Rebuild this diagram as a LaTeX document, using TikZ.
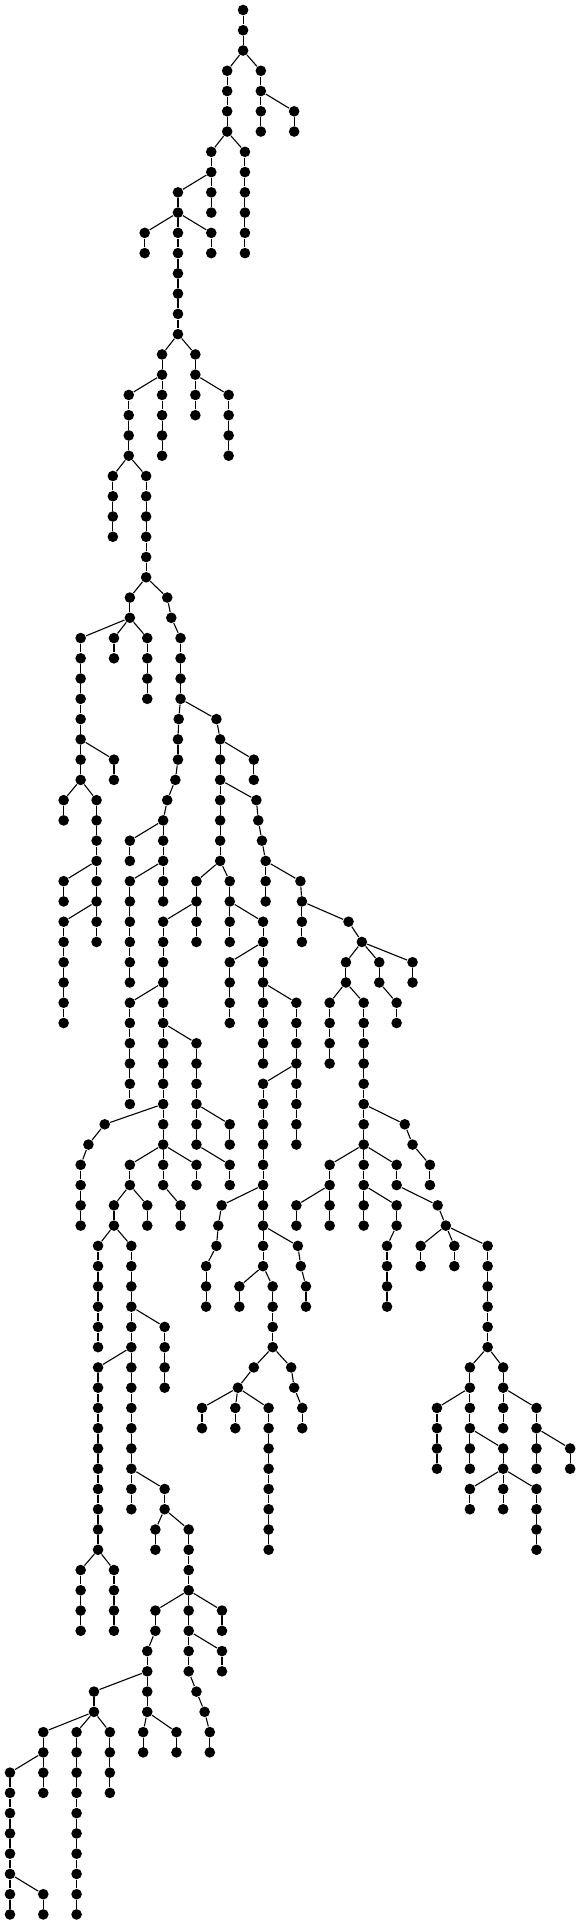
\documentclass[tikz,border=0pt]{standalone}
\usepackage{tikz}

\tikzset{vert/.style={circle, fill=black, inner sep=0pt, minimum size=10.6pt}}

\begin{document}
\begin{tikzpicture}[x=0.37pt, y=-20.26pt, line width=1.1pt]
    \useasboundingbox (0pt,10pt) rectangle (580pt,-1915pt);   % page frame

    \node [vert] (n0-657) at (657,0) {};                      % root

% level/column/parent column
\foreach \k/\x/\p in {1/657/657,2/657/657,%
    3/614/657,3/705/657,4/614/614,4/705/705,%
    5/614/614,5/705/705,5/795/705,6/614/614,6/705/705,6/795/795,%
    7/571/614,7/662/614,8/571/571,8/662/662,%
    9/481/571,9/571/571,9/662/662,10/481/481,10/571/571,10/662/662,%
    11/391/481,11/481/481,11/571/481,11/662/662,%
    12/391/391,12/481/481,12/571/571,12/662/662,%
    13/481/481,14/481/481,15/481/481,16/481/481,%
    17/438/481,17/528/481,18/438/438,18/528/528,%
    19/348/438,19/438/438,19/528/528,19/618/528,%
    20/348/348,20/438/438,20/528/528,20/618/618,%
    21/348/348,21/438/438,21/618/618,22/348/348,22/438/438,22/618/618,%
    23/305/348,23/395/348,24/305/305,24/395/395,25/305/305,25/395/395,%
    26/305/305,26/395/395,27/395/395,28/395/395,%
    29/351/395,29/452/395,30/351/351,30/463/452,%
    31/218/351,31/308/351,31/398/351,31/488/463,%
    32/218/218,32/308/308,32/398/398,32/488/488,%
    33/218/218,33/398/398,33/488/488,34/218/218,34/398/398,34/488/488,%
    35/218/218,35/483/488,35/585/488,36/218/218,36/481/483,36/595/585,%
    37/218/218,37/308/218,37/481/481,37/595/595,37/686/595,%
    38/218/218,38/308/308,38/474/481,38/595/595,38/686/686,%
    39/172/218,39/261/218,39/452/474,39/595/595,39/693/595,%
    40/172/172,40/261/261,40/441/452,40/595/595,40/698/693,%
    41/261/261,41/351/441,41/441/441,41/595/595,41/708/698,%
    42/261/261,42/351/351,42/441/441,42/595/595,42/718/708,%
    43/172/261,43/261/261,43/351/441,43/441/441,43/531/595,43/621/595,43/718/718,43/812/718,%
    44/172/172,44/261/261,44/351/351,44/441/441,44/531/531,44/621/621,44/718/718,44/816/812,%
    45/172/261,45/261/261,45/351/351,45/441/531,45/531/531,45/621/621,45/711/621,45/816/816,45/942/816,%
    46/172/172,46/261/261,46/351/351,46/441/441,46/531/531,46/621/621,46/711/711,46/816/816,46/978/942,%
    47/172/172,47/351/351,47/441/441,47/621/711,47/711/711,47/935/978,47/1025/978,47/1115/978,%
    48/172/172,48/351/351,48/441/441,48/621/621,48/711/711,48/935/935,48/1025/1025,48/1115/1115,%
    49/172/172,49/351/441,49/441/441,49/621/621,49/711/711,49/801/711,49/891/935,49/983/935,49/1072/1025,%
    50/172/172,50/351/351,50/441/441,50/621/621,50/711/711,50/801/801,50/891/891,50/983/983,50/1072/1072,%
    51/351/351,51/441/441,51/531/441,51/711/711,51/801/801,51/891/891,51/983/983,%
    52/351/351,52/441/441,52/531/531,52/711/711,52/801/801,52/891/891,52/983/983,%
    53/351/351,53/441/441,53/531/531,53/711/801,53/801/801,53/983/983,%
    54/351/351,54/441/441,54/531/531,54/711/711,54/801/801,54/983/983,%
    55/283/441,55/441/441,55/531/531,55/621/531,55/711/711,55/801/801,55/983/983,55/1094/983,%
    56/239/283,56/441/441,56/531/531,56/621/621,56/711/711,56/801/801,56/983/983,56/1115/1094,%
    57/218/239,57/351/441,57/441/441,57/531/441,57/621/531,57/711/711,57/891/983,57/983/983,57/1072/983,57/1162/1115,%
    58/218/218,58/351/351,58/441/441,58/531/531,58/621/621,58/711/711,58/891/891,58/983/983,58/1072/1072,58/1162/1162,%
    59/218/218,59/308/351,59/398/351,59/488/441,59/599/711,59/711/711,59/801/891,59/891/891,59/983/983,59/1072/983,59/1183/1072,%
    60/218/218,60/308/308,60/398/398,60/488/488,60/590/599,60/711/711,60/801/801,60/891/891,60/983/983,60/1072/1072,60/1205/1183,%
    61/265/308,61/355/308,61/585/590,61/711/711,61/805/711,61/1046/1072,61/1137/1205,61/1228/1205,61/1318/1205,%
    62/265/265,62/355/355,62/557/585,62/711/711,62/813/805,62/1046/1046,62/1137/1137,62/1228/1228,62/1318/1318,%
    63/265/265,63/355/355,63/557/557,63/647/711,63/737/711,63/827/813,63/1046/1046,63/1318/1318,%
    64/265/265,64/355/355,64/557/557,64/647/647,64/737/737,64/827/827,64/1046/1046,64/1318/1318,%
    65/265/265,65/355/355,65/445/355,65/737/737,65/1318/1318,%
    66/265/265,66/355/355,66/445/445,66/737/737,66/1318/1318,%
    67/265/355,67/355/355,67/445/445,67/686/737,67/787/737,67/1270/1318,67/1360/1318,%
    68/265/265,68/355/355,68/445/445,68/643/686,68/795/787,68/1270/1270,68/1360/1360,%
    69/265/265,69/355/355,69/546/643,69/636/643,69/726/643,69/817/795,69/1181/1270,69/1270/1270,69/1360/1360,69/1450/1360,%
    70/265/265,70/355/355,70/546/546,70/636/636,70/726/726,70/817/817,70/1181/1181,70/1270/1270,70/1360/1360,70/1450/1450,%
    71/265/265,71/355/355,71/726/726,71/1181/1181,71/1270/1270,71/1360/1270,71/1450/1450,71/1541/1450,%
    72/265/265,72/355/355,72/726/726,72/1181/1181,72/1270/1270,72/1360/1360,72/1450/1450,72/1541/1541,%
    73/265/265,73/355/355,73/445/355,73/726/726,73/1270/1360,73/1360/1360,73/1450/1360,%
    74/265/265,74/355/355,74/445/445,74/726/726,74/1270/1270,74/1360/1360,74/1450/1450,%
    75/265/265,75/420/445,75/510/445,75/726/726,75/1450/1450,%
    76/265/265,76/420/420,76/510/510,76/726/726,76/1450/1450,%
    77/218/265,77/308/265,77/510/510,78/218/218,78/308/308,78/510/510,%
    79/218/218,79/308/308,79/420/510,79/510/510,79/600/510,%
    80/218/218,80/308/308,80/420/420,80/510/510,80/600/600,%
    81/398/420,81/510/510,81/600/510,82/398/398,82/510/510,82/600/600,%
    83/254/398,83/398/398,83/531/510,84/254/254,84/398/398,84/553/531,%
    85/117/254,85/207/254,85/297/254,85/387/398,85/477/398,85/567/553,%
    86/117/117,86/207/207,86/297/297,86/387/387,86/477/477,86/567/567,%
    87/27/117,87/117/117,87/207/207,87/297/297,%
    88/27/27,88/117/117,88/207/207,88/297/297,%
    89/27/27,89/207/207,90/27/27,90/207/207,91/27/27,91/207/207,92/27/27,92/207/207,%
    93/27/27,93/117/27,93/207/207,94/27/27,94/117/117,94/207/207}
{
    \pgfmathtruncatemacro{\kk}{\k}
    \pgfmathtruncatemacro{\j}{\k-1}
    \pgfmathtruncatemacro{\xx}{\x}
    \pgfmathtruncatemacro{\pp}{\p}
    \node [vert] (n\kk-\xx) at (\xx,\kk) {};              % vertex
    \draw (n\j-\pp) -- (n\kk-\xx);                         % edge to parent
}

\end{tikzpicture}
\end{document}
